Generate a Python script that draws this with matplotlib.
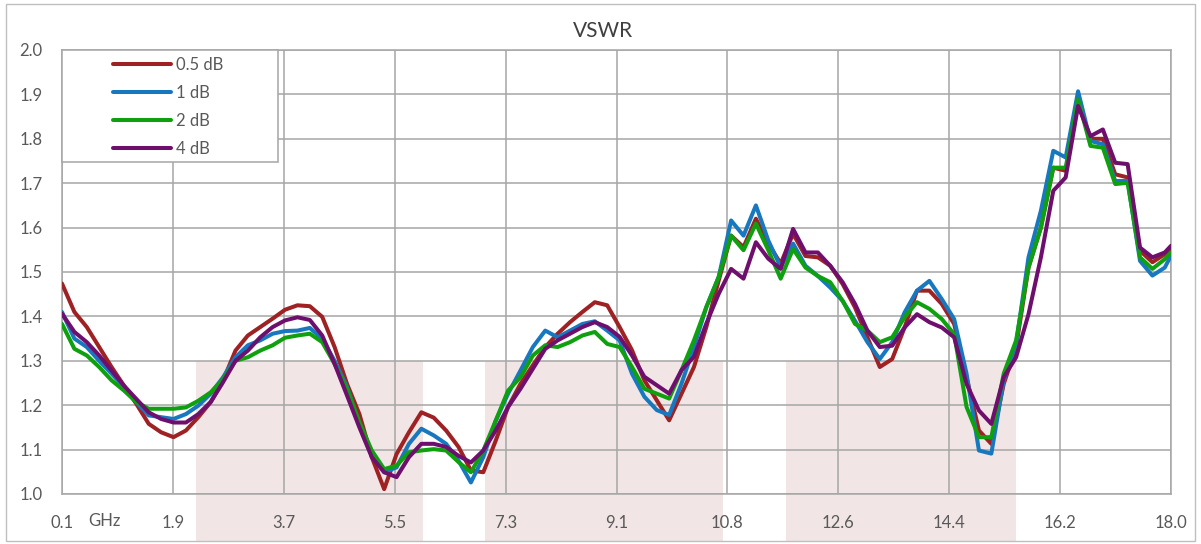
"""VSWR versus frequency for four attenuation settings."""

import matplotlib

matplotlib.use("Agg")
import matplotlib.pyplot as plt
import numpy as np
from matplotlib.patches import Rectangle

plt.rcParams["font.family"] = ["Lato", "DejaVu Sans"]

# frequency grid (GHz) the curves were read at
freq = [
    0.1, 0.3, 0.5, 0.7, 0.9, 1.1, 1.3, 1.5, 1.7, 1.9, 2.1, 2.3, 2.5, 2.7, 2.9,
    3.1, 3.3, 3.5, 3.7, 3.9, 4.1, 4.3, 4.5, 4.7, 4.9, 5.1, 5.3, 5.5, 5.7, 5.9,
    6.1, 6.3, 6.5, 6.7, 6.9, 7.1, 7.3, 7.5, 7.7, 7.9, 8.1, 8.3, 8.5, 8.7, 8.9,
    9.1, 9.3, 9.5, 9.7, 9.9, 10.1, 10.3, 10.5, 10.7, 10.9, 11.1, 11.3, 11.5, 11.7, 11.9,
    12.1, 12.3, 12.5, 12.7, 12.9, 13.1, 13.3, 13.5, 13.7, 13.9, 14.1, 14.3, 14.5, 14.7, 14.9,
    15.1, 15.3, 15.5, 15.7, 15.9, 16.1, 16.3, 16.5, 16.7, 16.9, 17.1, 17.3, 17.5, 17.7, 17.9, 18.0,
]

vswr_05db = [
    1.474, 1.41, 1.376, 1.331, 1.286, 1.244, 1.203, 1.158, 1.139, 1.128, 1.143, 1.173, 1.207, 1.256, 1.323,
    1.357, 1.376, 1.395, 1.415, 1.425, 1.423, 1.399, 1.331, 1.248, 1.180, 1.083, 1.011, 1.09, 1.139, 1.184,
    1.172, 1.143, 1.106, 1.053, 1.049, 1.12, 1.196, 1.248, 1.29, 1.331, 1.361, 1.387, 1.41, 1.432, 1.425,
    1.376, 1.324, 1.256, 1.211, 1.166, 1.226, 1.286, 1.376, 1.481, 1.582, 1.556, 1.62, 1.564, 1.519, 1.586,
    1.536, 1.533, 1.514, 1.473, 1.42, 1.353, 1.286, 1.304, 1.375, 1.458, 1.458, 1.428, 1.383, 1.263, 1.143,
    1.113, 1.248, 1.331, 1.51, 1.60, 1.735, 1.728, 1.881, 1.80, 1.80, 1.72, 1.713, 1.548, 1.522, 1.54, 1.552,
]

vswr_1db = [
    1.41, 1.35, 1.331, 1.30, 1.271, 1.241, 1.207, 1.177, 1.173, 1.169, 1.18, 1.199, 1.226, 1.263, 1.308,
    1.335, 1.346, 1.361, 1.367, 1.368, 1.374, 1.35, 1.30, 1.241, 1.158, 1.09, 1.049, 1.06, 1.113, 1.147,
    1.132, 1.113, 1.075, 1.026, 1.083, 1.165, 1.226, 1.278, 1.331, 1.368, 1.353, 1.368, 1.383, 1.389, 1.368,
    1.346, 1.271, 1.219, 1.189, 1.178, 1.249, 1.331, 1.421, 1.489, 1.616, 1.582, 1.65, 1.571, 1.511, 1.564,
    1.514, 1.491, 1.465, 1.435, 1.39, 1.342, 1.304, 1.342, 1.409, 1.458, 1.48, 1.439, 1.394, 1.271, 1.098,
    1.091, 1.256, 1.338, 1.533, 1.638, 1.773, 1.758, 1.907, 1.795, 1.788, 1.705, 1.705, 1.525, 1.492, 1.51, 1.537,
]

vswr_2db = [
    1.383, 1.327, 1.312, 1.286, 1.256, 1.233, 1.207, 1.192, 1.192, 1.192, 1.195, 1.21, 1.229, 1.259, 1.30,
    1.308, 1.323, 1.335, 1.352, 1.357, 1.361, 1.342, 1.293, 1.237, 1.162, 1.098, 1.056, 1.064, 1.094, 1.098,
    1.101, 1.098, 1.072, 1.049, 1.098, 1.165, 1.233, 1.263, 1.312, 1.335, 1.331, 1.342, 1.357, 1.365, 1.338,
    1.331, 1.286, 1.237, 1.226, 1.215, 1.279, 1.346, 1.421, 1.489, 1.582, 1.549, 1.609, 1.549, 1.485, 1.552,
    1.51, 1.491, 1.477, 1.435, 1.383, 1.368, 1.342, 1.353, 1.398, 1.432, 1.417, 1.394, 1.36, 1.196, 1.128,
    1.128, 1.271, 1.346, 1.51, 1.60, 1.735, 1.735, 1.889, 1.784, 1.78, 1.698, 1.701, 1.533, 1.507, 1.529, 1.544,
]

vswr_4db = [
    1.406, 1.365, 1.342, 1.312, 1.278, 1.244, 1.214, 1.184, 1.169, 1.161, 1.161, 1.18, 1.207, 1.252, 1.30,
    1.323, 1.353, 1.376, 1.391, 1.398, 1.392, 1.357, 1.293, 1.222, 1.150, 1.083, 1.049, 1.038, 1.083, 1.113,
    1.113, 1.106, 1.086, 1.071, 1.098, 1.143, 1.196, 1.237, 1.282, 1.327, 1.346, 1.361, 1.376, 1.387, 1.376,
    1.354, 1.312, 1.264, 1.245, 1.226, 1.279, 1.309, 1.384, 1.451, 1.507, 1.485, 1.567, 1.53, 1.507, 1.597,
    1.544, 1.544, 1.514, 1.477, 1.428, 1.368, 1.331, 1.334, 1.375, 1.405, 1.387, 1.375, 1.353, 1.248, 1.188,
    1.158, 1.263, 1.308, 1.405, 1.533, 1.683, 1.713, 1.874, 1.806, 1.821, 1.746, 1.743, 1.555, 1.533, 1.544, 1.559,
]

series_labels = ["0.5 dB", "1 dB", "2 dB", "4 dB"]
series_colors = ["#9E2124", "#1778C0", "#0FA00F", "#6E0F6E"]

# highlighted bands (GHz), shaded up to VSWR 1.3
bands = [(2.26, 5.92), (6.93, 10.77), (11.79, 15.50)]
band_top = 1.3

xtick_labels = ["0.1", "1.9", "3.7", "5.5", "7.3", "9.1", "10.8", "12.6", "14.4", "16.2", "18.0"]

GRID = "#A6A6A6"
TEXT = "#595959"

fig = plt.figure(figsize=(12.01, 5.44), dpi=100)
ax = fig.add_axes([62 / 1201, 50 / 544, 1109 / 1201, 444 / 544])

x_lo, x_hi = 0.1, 18.0
y_lo, y_hi = 1.0, 2.0
ax.set_xlim(x_lo, x_hi)
ax.set_ylim(y_lo, y_hi)

# pink bands run from 1.3 down past the axis into the label area
frac_top = (band_top - y_lo) / (y_hi - y_lo)
for b0, b1 in bands:
    ax.axvspan(b0, b1, ymin=-0.106, ymax=frac_top, color="#F2E5E5",
               lw=0, zorder=0.2, clip_on=False)

for vals, lab, col in zip([vswr_05db, vswr_1db, vswr_2db, vswr_4db],
                          series_labels, series_colors):
    ax.plot(freq, vals, color=col, lw=2.9, label=lab,
            solid_joinstyle="round", solid_capstyle="round", zorder=3)

ax.set_xticks(np.linspace(x_lo, x_hi, len(xtick_labels)))
ax.set_xticklabels(xtick_labels)
ax.set_yticks(np.arange(10, 21) / 10)
ax.set_yticklabels([f"{v / 10:.1f}" for v in range(10, 21)])
ax.tick_params(length=0, labelsize=12, labelcolor=TEXT)
ax.tick_params(axis="x", pad=15)
ax.tick_params(axis="y", pad=14)
ax.grid(True, color=GRID, lw=1.1)
ax.set_axisbelow(True)
for sp in ax.spines.values():
    sp.set_color(GRID)
    sp.set_linewidth(1.1)

ax.text(0.79, -0.061, "GHz", transform=ax.get_xaxis_transform(),
        ha="center", va="center", fontsize=12, color=TEXT)

fig.text(603 / 1201, 1 - 31 / 544, "VSWR", ha="center", va="center",
         fontsize=15, color="#404040")

# legend box in the top-left corner, entries placed inside it
ax.add_patch(Rectangle((0, 1 - 0.252), 0.195, 0.252, transform=ax.transAxes,
                       facecolor="white", edgecolor=GRID, lw=1.1, zorder=4,
                       clip_on=False))
leg = ax.legend(loc="upper left", bbox_to_anchor=(0.046, 0.984), frameon=False,
                fontsize=12, handlelength=3.5, handletextpad=0.3,
                labelspacing=0.72, borderpad=0, borderaxespad=0)
leg.set_zorder(5)
for t in leg.get_texts():
    t.set_color(TEXT)

fig.add_artist(Rectangle((6 / 1201, 3 / 544), 1189 / 1201, 537 / 544,
                         transform=fig.transFigure, fill=False,
                         edgecolor="#BFBFBF", lw=1.0))

fig.savefig("out.png", dpi=100)
plt.close(fig)
